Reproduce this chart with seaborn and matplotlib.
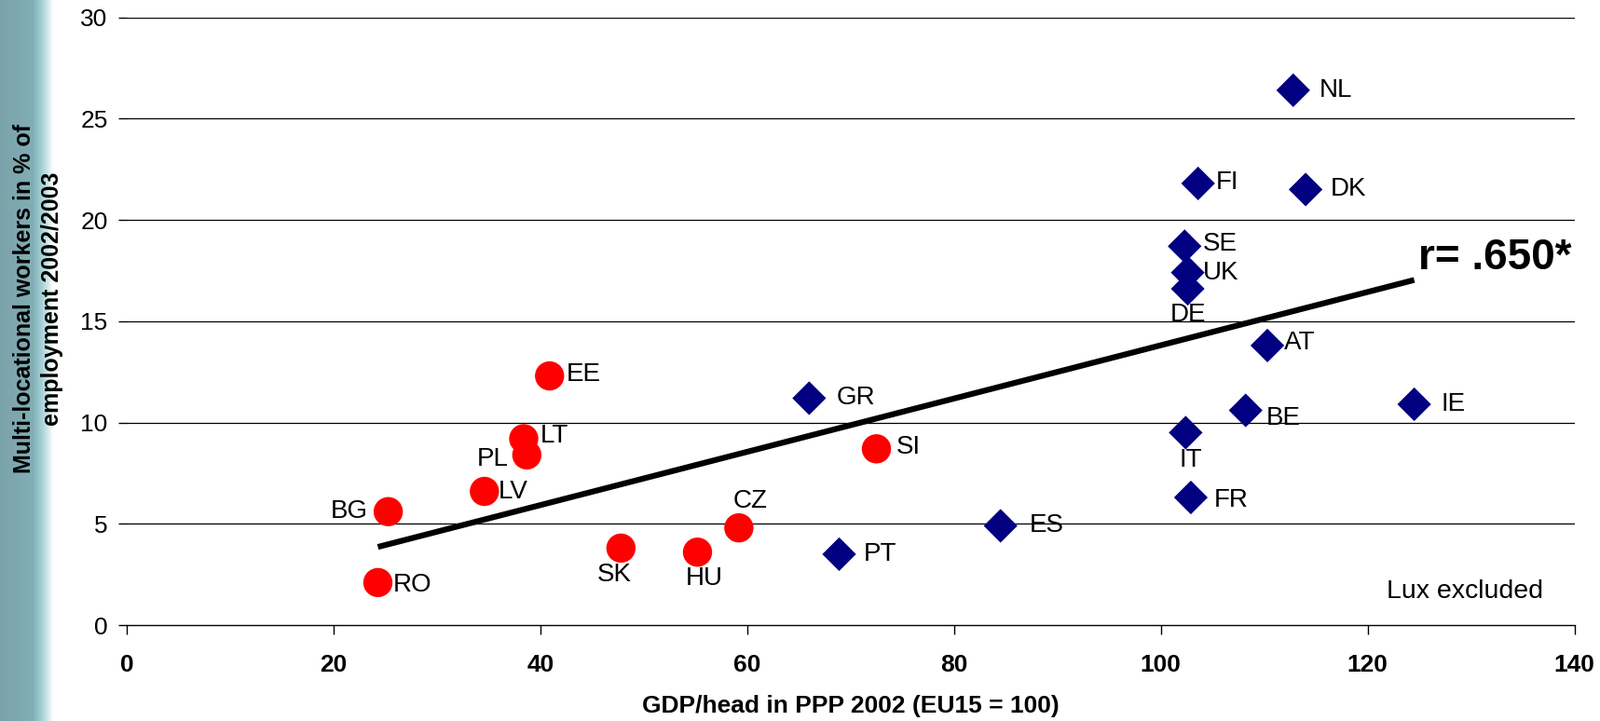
import numpy as np
import pandas as pd
import matplotlib
matplotlib.use("Agg")
import matplotlib.pyplot as plt
from matplotlib.colors import LinearSegmentedColormap
import seaborn as sns

# ---- data ----
new_members = ["EE", "LT", "PL", "LV", "BG", "RO", "SK", "HU", "CZ", "SI"]
new_gdp = [40.9, 38.4, 38.7, 34.6, 25.3, 24.3, 47.8, 55.2, 59.2, 72.5]
new_mlw = [12.3, 9.2, 8.4, 6.6, 5.6, 2.1, 3.8, 3.6, 4.8, 8.7]

old_members = ["NL", "FI", "DK", "SE", "UK", "DE", "AT", "GR", "IE", "BE", "IT", "FR", "ES", "PT"]
old_gdp = [112.8, 103.6, 114.0, 102.3, 102.6, 102.6, 110.3, 66.0, 124.5, 108.2, 102.4, 102.9, 84.5, 68.9]
old_mlw = [26.4, 21.8, 21.5, 18.7, 17.4, 16.6, 13.8, 11.2, 10.9, 10.6, 9.5, 6.3, 4.9, 3.5]

x_ticks = [0, 20, 40, 60, 80, 100, 120, 140]
y_ticks = [0, 5, 10, 15, 20, 25, 30]
r_text = "r= .650*"
note_text = "Lux excluded"
x_title = "GDP/head in PPP 2002 (EU15 = 100)"
y_title = "Multi-locational workers in % of\nemployment 2002/2003"

# ---- label placement (offset points, ha, va) ----
label_pos = {
    "NL": (20, 0, "left", "center"), "FI": (14, 1, "left", "center"),
    "DK": (19, 0, "left", "center"), "SE": (14, 2, "left", "center"),
    "UK": (12, 0, "left", "center"), "DE": (0, -11, "center", "top"),
    "AT": (13, 2, "left", "center"), "GR": (21, 0, "left", "center"),
    "IE": (21, 0, "left", "center"), "BE": (16, -6, "left", "center"),
    "IT": (4, -12, "center", "top"), "FR": (18, -2, "left", "center"),
    "ES": (22, 0, "left", "center"), "PT": (19, 0, "left", "center"),
    "EE": (13, 1, "left", "center"), "LT": (13, 2, "left", "center"),
    "PL": (-14, -3, "right", "center"), "LV": (11, 0, "left", "center"),
    "BG": (-16, 0, "right", "center"), "RO": (12, -2, "left", "center"),
    "SK": (-5, -11, "center", "top"), "HU": (5, -11, "center", "top"),
    "CZ": (9, 11, "center", "bottom"), "SI": (15, 1, "left", "center"),
}

sns.set_theme(style="white")
plt.rcParams["font.family"] = ["Liberation Sans", "DejaVu Sans"]
plt.rcParams["text.color"] = "black"
plt.rcParams["axes.labelcolor"] = "black"
plt.rcParams["xtick.color"] = "black"
plt.rcParams["ytick.color"] = "black"

fig = plt.figure(figsize=(17.17, 7.74), dpi=100)

# decorative left stripe
sax = fig.add_axes([0, 0, 0.033, 1])
cmap = LinearSegmentedColormap.from_list(
    "stripe", [(0, "#7aa2aa"), (0.62, "#82aeb5"), (0.78, "#a2d0d5"), (0.9, "#cfe8ea"), (1.0, "#ffffff")])
grad = np.linspace(0, 1, 256)[None, :]
sax.imshow(grad, aspect="auto", cmap=cmap, extent=[0, 1, 0, 1])
sax.set_axis_off()

ax = fig.add_axes([0.0791, 0.133, 0.905, 0.843])

df_new = pd.DataFrame({"gdp": new_gdp, "mlw": new_mlw, "c": new_members})
df_old = pd.DataFrame({"gdp": old_gdp, "mlw": old_mlw, "c": old_members})
df_all = pd.concat([df_new, df_old], ignore_index=True)

for yv in y_ticks[1:]:
    ax.axhline(yv, color="black", lw=0.9, zorder=0)

sns.regplot(data=df_all, x="gdp", y="mlw", ax=ax, scatter=False, ci=None,
            truncate=True, line_kws=dict(color="black", lw=4.5, solid_capstyle="butt", zorder=2))

sns.scatterplot(data=df_new, x="gdp", y="mlw", ax=ax, marker="o", s=510,
                color="#ff0000", edgecolor="none", zorder=3)
sns.scatterplot(data=df_old, x="gdp", y="mlw", ax=ax, marker="D", s=340,
                color="#000080", edgecolor="none", zorder=3)

for _, row in df_all.iterrows():
    dx, dy, ha, va = label_pos[row["c"]]
    ax.annotate(row["c"], (row["gdp"], row["mlw"]), xytext=(dx, dy),
                textcoords="offset points", ha=ha, va=va, fontsize=20, color="black", zorder=4)

ax.text(124.9, 18.1, r_text, fontsize=33, fontweight="bold", ha="left", va="center")
ax.text(137.0, 1.65, note_text, fontsize=20.5, ha="right", va="center")

ax.set_xlim(0, 140)
ax.set_ylim(0, 30)
ax.set_xticks(x_ticks)
ax.set_yticks(y_ticks)
ax.set_xticklabels([str(t) for t in x_ticks], fontsize=19, fontweight="bold")
ax.set_yticklabels([str(t) for t in y_ticks], fontsize=19)
ax.tick_params(axis="x", length=7, width=1, color="black", direction="out", bottom=True, pad=15)
ax.tick_params(axis="y", length=6.5, width=1, color="black", direction="out", left=True, pad=8)
for s in ["top", "right", "left"]:
    ax.spines[s].set_visible(False)
ax.spines["bottom"].set_color("black")
ax.spines["bottom"].set_linewidth(1)
ax.set_xlabel(x_title, fontsize=19, fontweight="bold", labelpad=15)
ax.set_ylabel("")
fig.text(0.0240, 0.586, y_title, rotation=90, ha="center", va="center", multialignment="center",
         fontsize=18, fontweight="bold", linespacing=1.3)

fig.savefig("out.png", dpi=100)
